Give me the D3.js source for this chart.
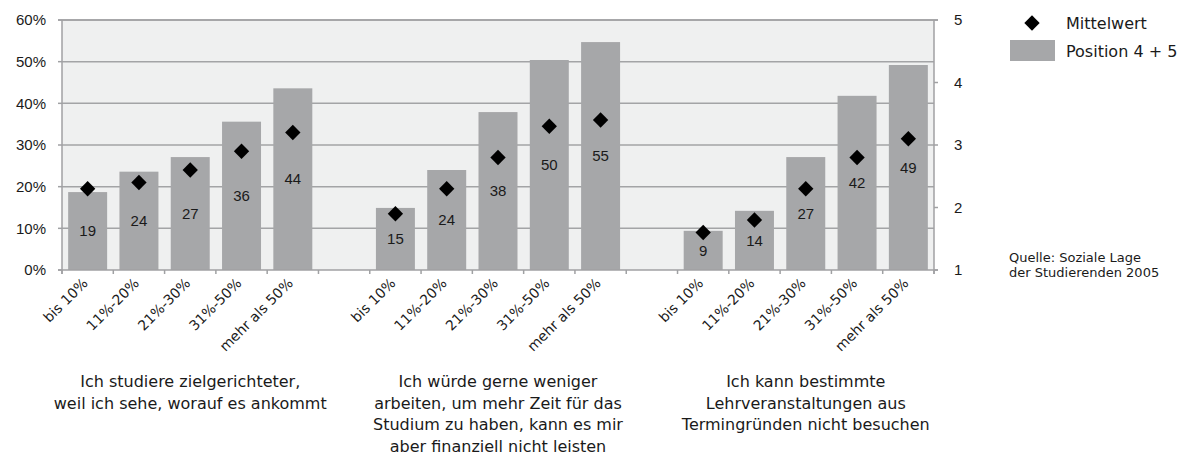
<!DOCTYPE html>
<html lang="de">
<head>
<meta charset="UTF-8">
<title>Position 4 + 5 / Mittelwert</title>
<script src="https://d3js.org/d3.v7.min.js"></script>
<style>
  body { margin: 0; background: #fff; }
  .num { font-family: "Liberation Sans", Arial, sans-serif; font-size: 15px; fill: #1a1a1a; }
  .hum { font-family: "DejaVu Sans", "Open Sans", sans-serif; fill: #1a1a1a; }
</style>
</head>
<body>
<script>
    // Daten
    const groups = [
        ["Ich studiere zielgerichteter,", "weil ich sehe, worauf es ankommt"],
        ["Ich würde gerne weniger", "arbeiten, um mehr Zeit für das", "Studium zu haben, kann es mir", "aber finanziell nicht leisten"],
        ["Ich kann bestimmte", "Lehrveranstaltungen aus", "Termingründen nicht besuchen"]
    ];
    const categories = ["bis 10%", "11%-20%", "21%-30%", "31%-50%", "mehr als 50%"];
    const position45 = [
        [18.7, 23.6, 27.1, 35.6, 43.6],
        [14.9, 24.0, 37.9, 50.4, 54.7],
        [9.4, 14.2, 27.1, 41.8, 49.2]
    ];
    const mittelwert = [
        [2.3, 2.4, 2.6, 2.9, 3.2],
        [1.9, 2.3, 2.8, 3.3, 3.4],
        [1.6, 1.8, 2.3, 2.8, 3.1]
    ];
    const leftTicks = [0, 10, 20, 30, 40, 50, 60];
    const rightTicks = [1, 2, 3, 4, 5];
    const legendItems = ["Mittelwert", "Position 4 + 5"];
    const source = ["Quelle: Soziale Lage", "der Studierenden 2005"];

    const W = 1181, H = 455;
    const plot = {left: 62, right: 934, top: 20, bottom: 270};

    const svg = d3.select("body").append("svg")
        .attr("width", W).attr("height", H);

    // one slot per bar plus an empty slot between groups
    const rows = [];
    groups.forEach((g, gi) => {
        categories.forEach((c, ci) => {
            rows.push({g: gi, cat: c, slot: gi * 6 + ci, val: position45[gi][ci], mean: mittelwert[gi][ci]});
        });
    });
    const nSlots = groups.length * 6 - 1;

    const x = d3.scaleBand()
        .domain(d3.range(nSlots))
        .range([plot.left, plot.right])
        .paddingInner(0.24)
        .paddingOuter(0.12);
    const step = x.step();

    const y = d3.scaleLinear().domain([0, 60]).range([plot.bottom, plot.top]);
    const y2 = d3.scaleLinear().domain([1, 5]).range([plot.bottom, plot.top]);

    // background
    svg.append("rect")
        .attr("x", plot.left).attr("y", plot.top)
        .attr("width", plot.right - plot.left).attr("height", plot.bottom - plot.top)
        .attr("fill", "#eff0f0");

    // gridlines
    svg.append("g").selectAll("line")
        .data(leftTicks.slice(1))
        .join("line")
        .attr("x1", plot.left).attr("x2", plot.right)
        .attr("y1", d => y(d)).attr("y2", d => y(d))
        .attr("stroke", "#a3a4a6").attr("stroke-width", 1.5);

    // bars
    svg.append("g").selectAll("rect")
        .data(rows)
        .join("rect")
        .attr("x", d => x(d.slot))
        .attr("width", x.bandwidth())
        .attr("y", d => y(d.val))
        .attr("height", d => y(0) - y(d.val))
        .attr("fill", "#a6a7a9");

    // bar labels (centre of bar)
    svg.append("g").selectAll("text")
        .data(rows)
        .join("text")
        .attr("class", "num")
        .attr("x", d => x(d.slot) + x.bandwidth() / 2)
        .attr("y", d => y(d.val / 2))
        .attr("dy", "0.35em")
        .attr("text-anchor", "middle")
        .text(d => d3.format(".0f")(d.val));

    // diamonds
    const diamond = d3.symbol().type(d3.symbolDiamond2).size(150);
    svg.append("g").selectAll("path")
        .data(rows)
        .join("path")
        .attr("d", diamond)
        .attr("transform", d => `translate(${x(d.slot) + x.bandwidth() / 2},${y2(d.mean)})`)
        .attr("fill", "#000");

    // axis lines
    const ax = svg.append("g").attr("stroke", "#a0a1a3").attr("stroke-width", 1.5);
    ax.append("line").attr("x1", plot.left).attr("x2", plot.left).attr("y1", plot.top).attr("y2", plot.bottom + 4);
    ax.append("line").attr("x1", plot.right).attr("x2", plot.right).attr("y1", plot.top).attr("y2", plot.bottom + 4);
    ax.append("line").attr("x1", plot.left - 4).attr("x2", plot.right + 4).attr("y1", plot.bottom).attr("y2", plot.bottom);
    ax.append("line").attr("x1", plot.left - 4).attr("x2", plot.right + 4).attr("y1", plot.top).attr("y2", plot.top);

    // left ticks
    ax.append("g").selectAll("line")
        .data(leftTicks)
        .join("line")
        .attr("x1", plot.left - 4).attr("x2", plot.left)
        .attr("y1", d => y(d)).attr("y2", d => y(d));
    svg.append("g").selectAll("text")
        .data(leftTicks)
        .join("text")
        .attr("class", "num")
        .attr("x", plot.left - 16)
        .attr("y", d => y(d))
        .attr("dy", "0.35em")
        .attr("text-anchor", "end")
        .text(d => d + "%");

    // right ticks
    ax.append("g").selectAll("line")
        .data(rightTicks)
        .join("line")
        .attr("x1", plot.right).attr("x2", plot.right + 4)
        .attr("y1", d => y2(d)).attr("y2", d => y2(d));
    svg.append("g").selectAll("text")
        .data(rightTicks)
        .join("text")
        .attr("class", "num")
        .attr("x", plot.right + 20)
        .attr("y", d => y2(d))
        .attr("dy", "0.35em")
        .attr("text-anchor", "start")
        .text(d => d);

    // bottom ticks at slot boundaries
    ax.append("g").selectAll("line")
        .data(d3.range(nSlots + 1))
        .join("line")
        .attr("x1", k => plot.left + k * step).attr("x2", k => plot.left + k * step)
        .attr("y1", plot.bottom).attr("y2", plot.bottom + 4);

    // rotated category labels
    svg.append("g").selectAll("text")
        .data(rows)
        .join("text")
        .attr("class", "hum")
        .attr("font-size", 14)
        .attr("text-anchor", "end")
        .attr("transform", d => `translate(${x(d.slot) + x.bandwidth() / 2 + 1},${plot.bottom + 14}) rotate(-45)`)
        .text(d => d.cat);

    // group titles
    const gt = svg.append("g").selectAll("text")
        .data(groups)
        .join("text")
        .attr("class", "hum")
        .attr("font-size", 16)
        .attr("text-anchor", "middle")
        .attr("transform", (d, i) => `translate(${x(i * 6 + 2) + x.bandwidth() / 2},387)`);
    gt.selectAll("tspan")
        .data(d => d)
        .join("tspan")
        .attr("x", 0)
        .attr("y", (d, i) => i * 21.5)
        .text(d => d);

    // legend
    const lg = svg.append("g");
    lg.append("path")
        .attr("d", d3.symbol().type(d3.symbolDiamond2).size(150))
        .attr("transform", "translate(1032,23)")
        .attr("fill", "#000");
    lg.append("rect")
        .attr("x", 1010).attr("y", 40).attr("width", 45).attr("height", 21)
        .attr("fill", "#a6a7a9");
    lg.selectAll("text")
        .data(legendItems)
        .join("text")
        .attr("class", "hum")
        .attr("font-size", 16)
        .attr("x", 1066)
        .attr("y", (d, i) => 23 + i * 28)
        .attr("dy", "0.35em")
        .text(d => d);

    // source
    svg.append("g").selectAll("text")
        .data(source)
        .join("text")
        .attr("class", "hum")
        .attr("font-size", 13)
        .attr("x", 1009)
        .attr("y", (d, i) => 262 + i * 15)
        .text(d => d);
</script>
</body>
</html>
